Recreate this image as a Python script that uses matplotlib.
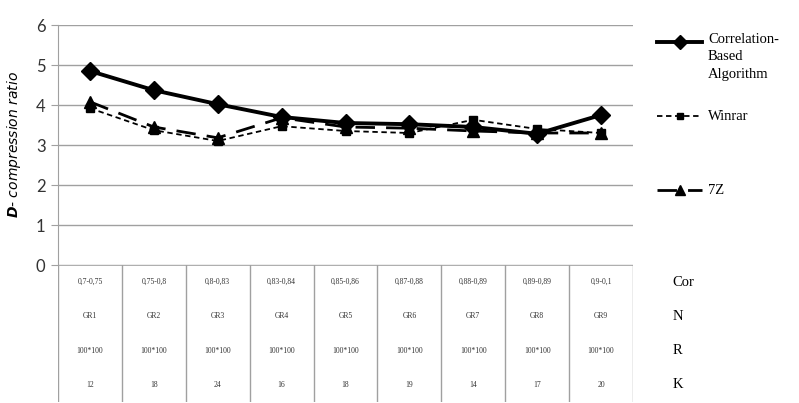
import matplotlib.pyplot as plt
from matplotlib.lines import Line2D

groups = ["GR1", "GR2", "GR3", "GR4", "GR5", "GR6", "GR7", "GR8", "GR9"]
cor = ["0,7-0,75", "0,75-0,8", "0,8-0,83", "0,83-0,84", "0,85-0,86",
       "0,87-0,88", "0,88-0,89", "0,89-0,89", "0,9-0,1"]
res = ["100*100"] * 9
k_vals = ["12", "18", "24", "16", "18", "19", "14", "17", "20"]
row_labels = ["Cor", "N", "R", "K"]

correlation = [4.85, 4.37, 4.02, 3.7, 3.55, 3.52, 3.45, 3.28, 3.75]
winrar = [3.92, 3.37, 3.1, 3.47, 3.35, 3.3, 3.63, 3.4, 3.3]
sevenz = [4.08, 3.45, 3.18, 3.68, 3.45, 3.42, 3.35, 3.3, 3.3]

fig = plt.figure(figsize=(7.99, 4.03), dpi=100)
W, H = 799, 403
left, right = 58 / W, 633 / W
ax = fig.add_axes([left, (H - 265) / H, right - left, 240 / H])
tab = fig.add_axes([left, (H - 402) / H, right - left, 137 / H], sharex=ax)

x = list(range(len(groups)))
ax.plot(x, correlation, color="black", lw=2.8, marker="D", ms=9,
        label="Correlation-Based Algorithm")
ax.plot(x, winrar, color="black", lw=1.3, ls=(0, (3, 2)), marker="s", ms=6,
        label="Winrar")
ax.plot(x, sevenz, color="black", lw=2.0, ls=(0, (7, 4)), marker="^", ms=8,
        label="7Z")

ax.set_xlim(-0.5, len(groups) - 0.5)
ax.set_ylim(0, 6)
ax.set_yticks(range(7))
ax.grid(axis="y", color="#a0a0a0", lw=1)
ax.set_axisbelow(True)
for s in ["top", "right", "bottom"]:
    ax.spines[s].set_visible(False)
ax.spines["left"].set_color("#a0a0a0")
ax.tick_params(axis="y", length=5, color="#a0a0a0", labelsize=12,
               labelcolor="#333333", pad=4)
ax.tick_params(axis="x", bottom=False, labelbottom=False)
for lab in ax.get_yticklabels():
    lab.set_fontfamily("Lato")
ax.set_ylabel(r"$\mathbfit{D}$- compression ratio", fontsize=10,
              style="italic", labelpad=9)

# table under the plot
tab.set_ylim(4, 0)
tab.axis("off")
for b in range(len(groups) + 1):
    tab.axvline(b - 0.5, color="#a0a0a0", lw=1)
tab.axhline(0, color="#a0a0a0", lw=1.2)
rows = [cor, groups, res, k_vals]
for r, row in enumerate(rows):
    for i, txt in enumerate(row):
        tab.text(i, r + 0.5, txt, ha="center", va="center", fontsize=5.5,
                 family="Liberation Serif", color="#333333")
    tab.text(len(groups) - 0.5 + 0.62, r + 0.5, row_labels[r], ha="left",
             va="center", fontsize=10.5, family="Liberation Serif")

# legend
handles = [
    (42, "Correlation-\nBased\nAlgorithm", dict(lw=2.8, ls="-", marker="D", ms=7)),
    (116, "Winrar", dict(lw=1.3, ls=(0, (3, 2)), marker="s", ms=5)),
    (190, "7Z", dict(lw=2.0, ls=(0, (7, 4)), marker="^", ms=7)),
]
for yy, label, st in handles:
    fy = (H - yy) / H
    fig.add_artist(Line2D([657 / W, 680 / W, 702 / W], [fy, fy, fy],
                          color="black", markevery=[1], **st))
    multi = "\n" in label
    ty = (H - 33) / H if multi else fy
    fig.text(708 / W, ty, label, ha="left", va="top" if multi else "center",
             fontsize=10.5, family="Liberation Serif", linespacing=1.45)

fig.savefig("out.png", dpi=100)
